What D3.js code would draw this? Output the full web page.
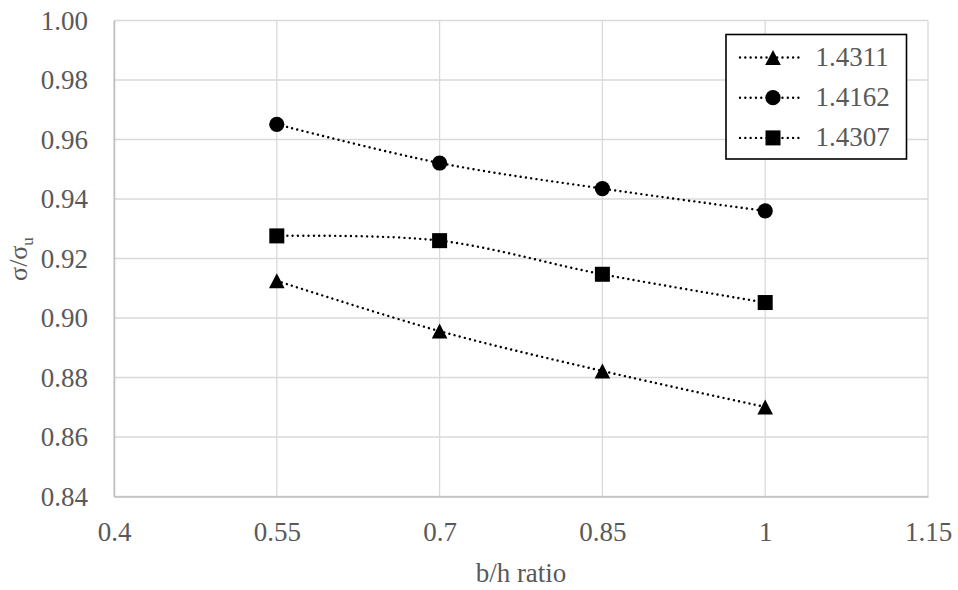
<!DOCTYPE html>
<html><head><meta charset="utf-8">
<style>
@font-face { font-family: "ChartSerif"; src: local("Liberation Serif"), local("LiberationSerif-Regular"), local("Tinos"), local("Times New Roman"); }
</style>
<script src="https://cdn.jsdelivr.net/npm/d3@7"></script>
</head><body style="margin:0;background:#fff"><svg id="c" width="958" height="590" style="display:block"></svg>
<script>
const xValues = [0.55, 0.7, 0.85, 1.0];
const seriesNames = ["1.4311", "1.4162", "1.4307"];
const seriesShapes = ["triangle", "circle", "square"];
const triValues = [0.9125, 0.8956, 0.8822, 0.8701];
const circValues = [0.9651, 0.9521, 0.9435, 0.9360];
const sqValues = [0.9276, 0.9260, 0.9147, 0.9052];
const xTicks = [0.4, 0.55, 0.7, 0.85, 1, 1.15];
const yTicks = [0.84, 0.86, 0.88, 0.90, 0.92, 0.94, 0.96, 0.98, 1.00];
const xTitle = "b/h ratio";

const series = [triValues, circValues, sqValues].map((v, i) => ({
  name: seriesNames[i], shape: seriesShapes[i],
  pts: xValues.map((x, j) => [x, v[j]])
}));

const TXT = "#595959";
const svg = d3.select("#c");
const L = 114, R = 928, T = 20.5, B = 496.5;
const x = d3.scaleLinear().domain([0.4, 1.15]).range([L, R]);
const y = d3.scaleLinear().domain([0.84, 1.00]).range([B, T]);

function styleText(sel, size) {
  return sel.attr("fill", TXT)
    .style("font", `${size}px 'Liberation Serif', ChartSerif, Tinos, 'Times New Roman', serif`);
}

// gridlines
const g = svg.append("g");
g.selectAll(".hg").data(yTicks).enter().append("line")
  .attr("x1", L).attr("x2", R).attr("y1", d => y(d)).attr("y2", d => y(d))
  .attr("stroke", "#d9d9d9").attr("stroke-width", 1.3);
g.selectAll(".vg").data(xTicks).enter().append("line")
  .attr("y1", T).attr("y2", B).attr("x1", d => x(d)).attr("x2", d => x(d))
  .attr("stroke", "#d9d9d9").attr("stroke-width", 1.3);

// axes
const xAxis = d3.axisBottom(x).tickValues(xTicks).tickSize(0).tickPadding(25)
  .tickFormat(d => d3.format("")(+d.toFixed(2)));
const gx = svg.append("g").attr("transform", `translate(0,${B})`).call(xAxis)
  .attr("font-family", null).attr("font-size", null);
gx.select(".domain").attr("stroke", "#bfbfbf").attr("stroke-width", 1.5);
styleText(gx.selectAll("text"), 27).attr("dy", "0.71em");

const yAxis = d3.axisLeft(y).tickValues(yTicks).tickSize(0).tickPadding(26)
  .tickFormat(d3.format(".2f"));
const gy = svg.append("g").attr("transform", `translate(${L},0)`).call(yAxis)
  .attr("font-family", null).attr("font-size", null);
gy.select(".domain").attr("stroke", "#bfbfbf").attr("stroke-width", 1.5);
styleText(gy.selectAll("text"), 27);

// titles
styleText(svg.append("text"), 27).attr("x", (L + R) / 2).attr("y", 582).attr("text-anchor", "middle").text(xTitle);
const yt = styleText(svg.append("text"), 26).attr("transform", "translate(27,259) rotate(-90)")
  .attr("text-anchor", "middle");
yt.append("tspan").text("σ/σ");
yt.append("tspan").style("font-size", "17px").attr("dy", 6).text("u");

// markers
function marker(sel, shape, cx, cy) {
  if (shape === "circle") {
    sel.append("circle").attr("cx", cx).attr("cy", cy).attr("r", 7.6).attr("fill", "#000");
  } else if (shape === "square") {
    sel.append("rect").attr("x", cx - 7.5).attr("y", cy - 7.5).attr("width", 15).attr("height", 15).attr("fill", "#000");
  } else {
    sel.append("path").attr("d", `M${cx},${cy - 7.5}L${cx + 7.8},${cy + 7.5}L${cx - 7.8},${cy + 7.5}Z`).attr("fill", "#000");
  }
}

const line = d3.line().x(d => x(d[0])).y(d => y(d[1])).curve(d3.curveCatmullRom.alpha(0));
const dot = { w: 2.4, dash: "0.01,5.3" };
series.forEach(s => {
  svg.append("path").attr("d", line(s.pts)).attr("fill", "none").attr("stroke", "#000")
    .attr("stroke-width", dot.w).attr("stroke-dasharray", dot.dash).attr("stroke-linecap", "round");
});
series.forEach(s => {
  const gm = svg.append("g");
  s.pts.forEach(p => marker(gm, s.shape, x(p[0]), y(p[1])));
});

// legend
const lg = svg.append("g");
lg.append("rect").attr("x", 726).attr("y", 34.5).attr("width", 180.5).attr("height", 124.5)
  .attr("fill", "#fff").attr("stroke", "#000").attr("stroke-width", 1.6);
series.forEach((s, i) => {
  const cy = 57.5 + i * 40.2;
  lg.append("line").attr("x1", 740).attr("x2", 803).attr("y1", cy).attr("y2", cy)
    .attr("stroke", "#000").attr("stroke-width", dot.w).attr("stroke-dasharray", dot.dash).attr("stroke-linecap", "round");
  marker(lg, s.shape, 773, cy);
  styleText(lg.append("text"), 27).attr("x", 815.5).attr("y", cy + 8.5).text(s.name);
});
</script></body></html>
